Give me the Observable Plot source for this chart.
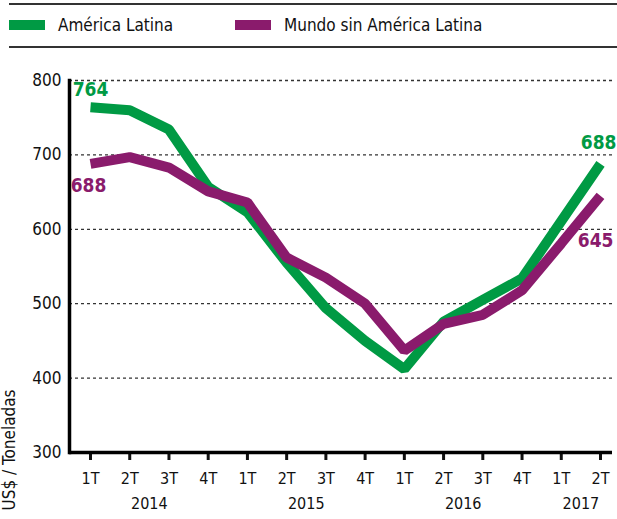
<!DOCTYPE html>
<html>
<head>
<meta charset="utf-8">
<script src="https://cdn.jsdelivr.net/npm/d3@7"></script>
<script src="https://cdn.jsdelivr.net/npm/@observablehq/plot@0.6"></script>
<style>
  body { margin: 0; background: #fff; font-family: "DejaVu Sans Condensed", "DejaVu Sans", sans-serif; }
  #legend { position: relative; width: 617px; height: 50px; }
  #legend .rule { position: absolute; left: 9px; right: 0; height: 2px; background: #333; }
  #legend .item { position: absolute; top: 15px; display: flex; align-items: center; font-size: 17px; color: #111; font-stretch: condensed; }
  #legend .sw { width: 36px; height: 10px; margin-right: 13px; }
</style>
</head>
<body>
<div id="legend"></div>
<div id="chart"></div>
<script>
const quarters = ["1T","2T","3T","4T","1T","2T","3T","4T","1T","2T","3T","4T","1T","2T"];
const years = ["2014","2015","2016","2017"];
const yearCenters = [1.5, 5.5, 9.5, 12.5];
const seriesNames = ["América Latina", "Mundo sin América Latina"];
const colors = ["#009a44", "#8a1b6c"];
const latam = [764, 760, 734, 657, 623, 555, 494, 450, 412, 476, 505, 534, 611, 688];
const mundo = [688, 697, 683, 651, 636, 562, 535, 500, 437, 473, 485, 518, 581, 645];
const yTicks = [300, 400, 500, 600, 700, 800];

const font = '"DejaVu Sans Condensed", "DejaVu Sans", sans-serif';

// legend
const leg = document.getElementById("legend");
leg.innerHTML = `<div class="rule" style="top:3px"></div><div class="rule" style="top:46px"></div>` +
  seriesNames.map((n, i) => `<div class="item" style="left:${i === 0 ? 9 : 235}px"><div class="sw" style="background:${colors[i]}"></div>${n}</div>`).join("");

const data = [];
latam.forEach((v, i) => data.push({i, v, s: seriesNames[0]}));
mundo.forEach((v, i) => data.push({i, v, s: seriesNames[1]}));

const last = quarters.length - 1;
const lbl = (i, v, s, opts) => Plot.text([{i, v, s}], {x: "i", y: "v", text: d => String(d.v), fill: "s", fontWeight: "bold", fontSize: 19, ...opts});

const chart = Plot.plot({
  width: 617,
  height: 469,
  marginLeft: 69,
  marginRight: 5,
  marginTop: 30,
  marginBottom: 67,
  style: {fontFamily: font, fontSize: "16px", color: "#111", background: "#fff"},
  x: {type: "linear", domain: [0, last], range: [90, 600]},
  y: {domain: [300, 800]},
  color: {domain: seriesNames, range: colors},
  marks: [
    Plot.ruleY(yTicks.filter(t => t > 300), {stroke: "#333", strokeWidth: 1.3, strokeDasharray: "3,3"}),
    Plot.axisY({ticks: yTicks, tickSize: 0, tickPadding: 8, label: null, fontSize: 17}),
    Plot.axisX({ticks: d3.range(quarters.length), tickFormat: i => quarters[i], tickSize: 8, strokeWidth: 3, tickPadding: 12, label: null, fontSize: 16}),
    Plot.text(years, {x: (d, k) => yearCenters[k], text: d => d, frameAnchor: "bottom", dy: 56, fontSize: 16}),
    Plot.text(["US$ / Toneladas"], {frameAnchor: "bottom-left", text: d => d, rotate: -90, textAnchor: "start", dx: -55, dy: 58, fontSize: 17}),
    Plot.line(data, {x: "i", y: "v", z: "s", stroke: "s", strokeWidth: 10, strokeLinejoin: "miter", strokeLinecap: "butt"}),
    lbl(0, latam[0], seriesNames[0], {dy: -17}),
    lbl(0, mundo[0], seriesNames[1], {dy: 22, dx: -2}),
    lbl(last, latam[last], seriesNames[0], {dy: -21, textAnchor: "end", dx: 16}),
    lbl(last, mundo[last], seriesNames[1], {dy: 45, textAnchor: "end", dx: 13}),
    Plot.ruleY([300], {stroke: "#000", strokeWidth: 3.5}),
    Plot.frame({anchor: "left", stroke: "#000", strokeWidth: 3.5})
  ]
});
document.getElementById("chart").appendChild(chart);
</script>
</body>
</html>
